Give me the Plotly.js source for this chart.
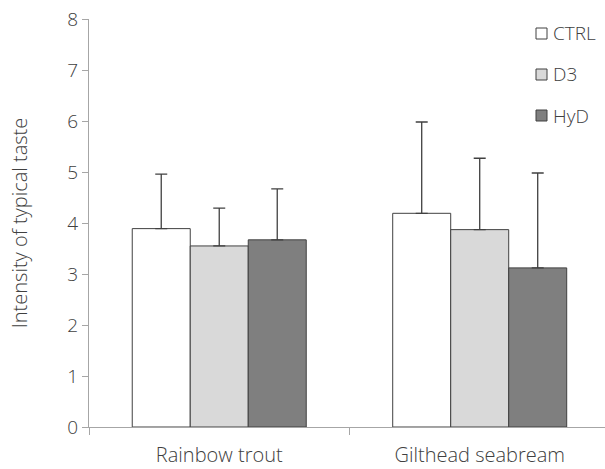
<!DOCTYPE html>
<html>
<head>
<meta charset="utf-8">
<script src="https://cdn.plot.ly/plotly-3.0.1.min.js"></script>
<style>html,body{margin:0;padding:0;background:#fff;}#chart{width:605px;height:469px;}</style>
</head>
<body>
<div id="chart"></div>
<script>
const categories = ["Rainbow trout", "Gilthead seabream"];
const seriesNames = ["CTRL", "D3", "HyD"];
const ctrlValues = [3.89, 4.19];
const d3Values = [3.55, 3.87];
const hydValues = [3.67, 3.12];
const ctrlErr = [1.07, 1.79];
const d3Err = [0.74, 1.40];
const hydErr = [1.00, 1.86];
const yTicks = [0, 1, 2, 3, 4, 5, 6, 7, 8];

const fills = ["#ffffff", "#d9d9d9", "#7f7f7f"];
const values = [ctrlValues, d3Values, hydValues];
const errs = [ctrlErr, d3Err, hydErr];

const FAM = "'Open Sans', Lato, sans-serif";
const TXT = "#404040";
const W = 300;

const traces = seriesNames.map((name, i) => ({
  type: "bar",
  name: name,
  x: categories,
  y: values[i],
  showlegend: false,
  marker: { color: fills[i], line: { color: "#404040", width: 1 } },
  error_y: { type: "data", symmetric: false, array: errs[i], arrayminus: errs[i].map(() => 0), color: "#404040", thickness: 1.3, width: 6 }
}));

// plot area in pixels: x 89..605, y 19..427
const L = 89, R = 605, T = 19, B = 427;
const px = v => (v - L) / (R - L);
const py = v => (B - v) / (B - T);

// custom legend (positions only; labels/colours from the series arrays)
const legendTop = [28, 69, 110];
const shapes = [], annotations = [];
seriesNames.forEach((name, i) => {
  shapes.push({
    type: "rect", xref: "paper", yref: "paper",
    x0: px(536), x1: px(547), y0: py(legendTop[i] + 11), y1: py(legendTop[i]),
    fillcolor: fills[i], line: { color: "#404040", width: 1 }
  });
  annotations.push({
    xref: "paper", yref: "paper", x: px(551), y: py(legendTop[i] + 5.5),
    xanchor: "left", yanchor: "middle", showarrow: false, text: name,
    font: { family: FAM, size: 19, color: TXT, weight: W }
  });
});

const layout = {
  width: 605, height: 469,
  margin: { l: L, r: 605 - R, t: T, b: 469 - B },
  paper_bgcolor: "#fff", plot_bgcolor: "#fff",
  font: { family: FAM, color: TXT, size: 19, weight: W },
  barmode: "group",
  bargap: 0.332,
  bargroupgap: 0,
  showlegend: false,
  shapes: shapes,
  annotations: annotations,
  xaxis: {
    type: "category",
    range: [-0.5, 1.481],
    showline: true, linecolor: "#a6a6a6", linewidth: 1,
    ticks: "outside", tickson: "boundaries", ticklen: 7, tickcolor: "#a6a6a6",
    ticklabelstandoff: 10,
    showgrid: false, zeroline: false, automargin: false,
    tickfont: { family: FAM, size: 20, color: TXT, weight: W }
  },
  yaxis: {
    range: [0, 8], tickvals: yTicks,
    showline: true, linecolor: "#a6a6a6", linewidth: 1,
    ticks: "outside", ticklen: 6, tickcolor: "#a6a6a6",
    showgrid: false, zeroline: false, automargin: false,
    tickfont: { family: FAM, size: 19, color: TXT, weight: W },
    title: { text: "Intensity of typical taste", font: { family: FAM, size: 20, color: TXT, weight: W }, standoff: 34 }
  }
};

Plotly.newPlot("chart", traces, layout, { displayModeBar: false, staticPlot: true });
</script>
</body>
</html>
